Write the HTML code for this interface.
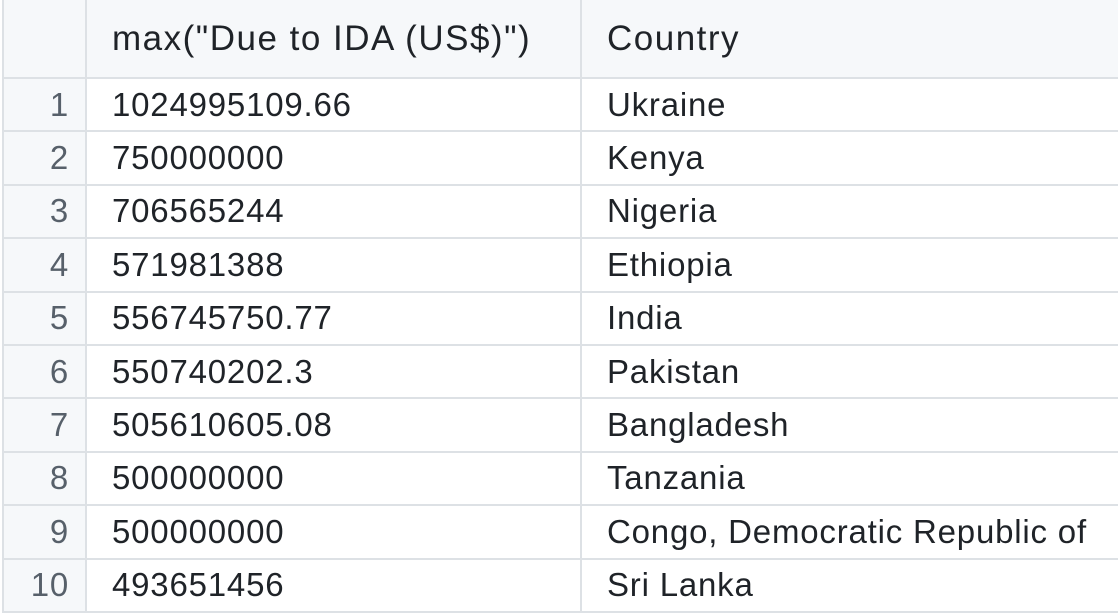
<!DOCTYPE html>
<html><head><meta charset="utf-8"><style>
body{margin:0;width:1118px;height:614px;overflow:hidden;background:#fff;font-family:"Liberation Sans",sans-serif;}
table{position:absolute;left:2px;top:-2px;border-collapse:collapse;table-layout:fixed;width:1120px;}
td,th{border:2px solid #dde1e5;height:51.4px;padding:0 0 0 25px;font-size:33px;letter-spacing:0.8px;color:#1f2328;font-weight:normal;text-align:left;white-space:nowrap;overflow:hidden;}
th{height:77px;background:#f6f8fa;font-size:35px;letter-spacing:1.5px;}
td.i{background:#f6f8fa;color:#57606a;text-align:right;padding:0 16px 0 0;}
</style></head><body>
<table>
<colgroup><col style="width:83px"><col style="width:495px"><col></colgroup>
<tr><th></th><th>max("Due to IDA (US$)")</th><th>Country</th></tr>
<tr><td class="i">1</td><td>1024995109.66</td><td>Ukraine</td></tr>
<tr><td class="i">2</td><td>750000000</td><td>Kenya</td></tr>
<tr><td class="i">3</td><td>706565244</td><td>Nigeria</td></tr>
<tr><td class="i">4</td><td>571981388</td><td>Ethiopia</td></tr>
<tr><td class="i">5</td><td>556745750.77</td><td>India</td></tr>
<tr><td class="i">6</td><td>550740202.3</td><td>Pakistan</td></tr>
<tr><td class="i">7</td><td>505610605.08</td><td>Bangladesh</td></tr>
<tr><td class="i">8</td><td>500000000</td><td>Tanzania</td></tr>
<tr><td class="i">9</td><td>500000000</td><td>Congo, Democratic Republic of</td></tr>
<tr><td class="i">10</td><td>493651456</td><td>Sri Lanka</td></tr>
</table>
</body></html>
